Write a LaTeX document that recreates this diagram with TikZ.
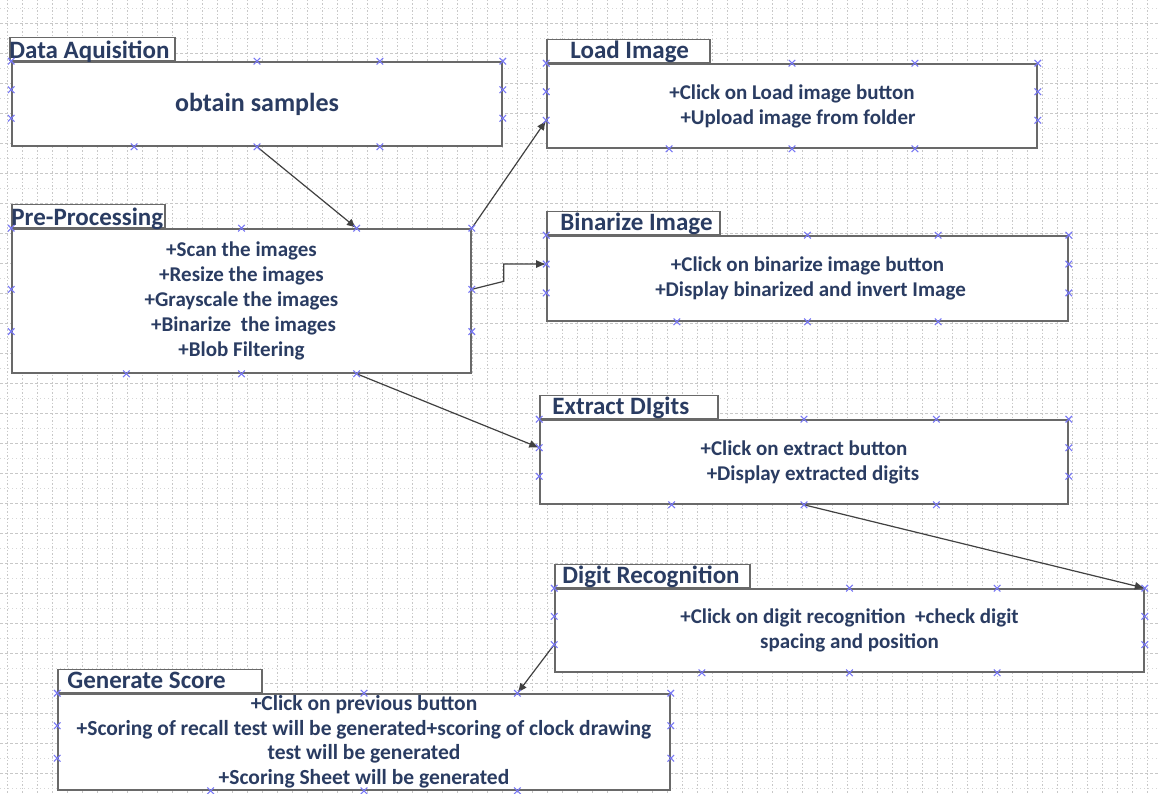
\documentclass[tikz,border=0pt]{standalone}
\usepackage{fontspec}
\setmainfont{Carlito}
\usetikzlibrary{arrows.meta,calc,shapes.misc}

\definecolor{ink}{RGB}{42,60,98}
\definecolor{frame}{RGB}{105,105,105}
\definecolor{pin}{RGB}{120,120,245}
\definecolor{wire}{RGB}{65,65,65}
\definecolor{gridc}{RGB}{215,215,215}
\definecolor{gridm}{RGB}{200,200,200}

\tikzset{
  stagebox/.style={draw=frame, line width=1.6pt, fill=white, inner sep=0pt,
    align=center, text=ink, font=\bfseries\fontsize{21}{25}\selectfont},
  tabbox/.style={draw=frame, line width=1.6pt, fill=white, inner sep=0pt,
    anchor=south west, minimum height=23pt},
  tabtext/.style={text=ink, font=\bfseries\fontsize{25}{26}\selectfont,
    anchor=base west, inner sep=0pt},
  pinmark/.style={cross out, draw=pin, line width=1.1pt, minimum size=5.5pt,
    inner sep=0pt},
  flow/.style={draw=wire, line width=1.2pt, -{Latex[length=10pt,width=8pt]}},
  vgrid/.style={draw=gridm, line width=0.7pt, dash pattern=on 1.5pt off 2pt},
  minorgrid/.style={draw=gridc, line width=0.6pt, dash pattern=on 1pt off 3pt},
  majorgrid/.style={draw=gridm, line width=0.8pt, dash pattern=on 3pt off 2pt},
}

% connection points of a stage box: #1 name, #2 and #3 side fractions
\newcommand\stagepins[3]{%
  \foreach \f/\n in {0/tl,0.5/t50,0.75/t75,1/tr}
    \coordinate (#1-\n) at ($(#1.north west)!\f!(#1.north east)$);
  \foreach \f/\n in {0.25/b25,0.5/b50,0.75/b75}
    \coordinate (#1-\n) at ($(#1.south west)!\f!(#1.south east)$);
  \coordinate (#1-l1) at ($(#1.north west)!#2!(#1.south west)$);
  \coordinate (#1-l2) at ($(#1.north west)!#3!(#1.south west)$);
  \coordinate (#1-r1) at ($(#1.north east)!#2!(#1.south east)$);
  \coordinate (#1-r2) at ($(#1.north east)!#3!(#1.south east)$);
}
\newcommand\drawpins[1]{%
  \foreach \n in {tl,t50,t75,tr,b25,b50,b75,l1,l2,r1,r2}
    \node[pinmark] at (#1-\n) {};
}

\begin{document}
\begin{tikzpicture}[x=1pt,y=-1pt]
  \useasboundingbox (0,0) rectangle (1159,794);
  \fill[white] (0,0) rectangle (1159,794);

  % background grid
  \foreach \x in {7,22,...,1159} \draw[vgrid] (\x,0) -- (\x,794);
  \foreach \y in {8,38,...,794} \draw[minorgrid] (0,\y) -- (1159,\y);
  \foreach \y in {23,53,...,794} \draw[majorgrid] (0,\y) -- (1159,\y);

  % stage boxes
  \node[stagebox, minimum width=490pt, minimum height=84pt,
        font=\bfseries\fontsize{26}{28}\selectfont] (da) at (257,104) {obtain samples};
  \node[stagebox, minimum width=459pt, minimum height=144pt] (pp) at (241.5,301)
    {+Scan the images\\+Resize the images\\+Grayscale the images\\
     \hspace*{4pt}+Binarize~ the images\\+Blob Filtering};
  \node[stagebox, minimum width=490pt, minimum height=84pt] (li) at (792,106)
    {+Click on Load image button\\\hspace*{12pt}+Upload image from folder};
  \node[stagebox, minimum width=521pt, minimum height=85pt] (bi) at (807.5,278.5)
    {+Click on binarize image button\\\hspace*{6pt}+Display binarized and invert Image};
  \node[stagebox, minimum width=528pt, minimum height=84pt] (ed) at (804,462)
    {+Click on extract button\\\hspace*{18pt}+Display extracted digits};
  \node[stagebox, minimum width=589pt, minimum height=83pt] (dr) at (849.5,630.5)
    {+Click on digit recognition~ +check digit\\spacing and position};
  \node[stagebox, minimum width=612pt, minimum height=96pt,
        font=\bfseries\fontsize{21.5}{24.5}\selectfont] (gs) at (364,742)
    {+Click on previous button\\
     +Scoring of recall test will be generated+scoring of clock drawing\\
     test will be generated\\+Scoring Sheet will be generated};

  % title tabs
  \node[tabbox, minimum width=165pt] (da-tab) at ($(da.north west)+(-2,0)$) {};
  \node[tabbox, minimum width=153pt] (pp-tab) at (pp.north west) {};
  \node[tabbox, minimum width=163pt] (li-tab) at (li.north west) {};
  \node[tabbox, minimum width=173pt] (bi-tab) at (bi.north west) {};
  \node[tabbox, minimum width=178pt] (ed-tab) at (ed.north west) {};
  \node[tabbox, minimum width=195pt] (dr-tab) at (dr.north west) {};
  \node[tabbox, minimum width=204pt] (gs-tab) at (gs.north west) {};

  \node[tabtext] (da-title) at ($(da-tab.south west)+(0,-3)$) {Data Aquisition};
  \node[tabtext] (pp-title) at ($(pp-tab.south west)+(0,-3)$) {Pre-Processing};
  \node[tabtext] (li-title) at ($(li-tab.south west)+(24,-5)$) {Load Image};
  \node[tabtext] (bi-title) at ($(bi-tab.south west)+(14,-5)$) {Binarize Image};
  \node[tabtext] (ed-title) at ($(ed-tab.south west)+(13,-5)$) {Extract DIgits};
  \node[tabtext] (dr-title) at ($(dr-tab.south west)+(8,-5)$) {Digit Recognition};
  \node[tabtext] (gs-title) at ($(gs-tab.south west)+(10,-5)$) {Generate Score};

  % connection points
  \stagepins{da}{1/3}{2/3}
  \stagepins{pp}{0.42}{0.71}
  \stagepins{li}{1/3}{2/3}
  \stagepins{bi}{1/3}{2/3}
  \stagepins{ed}{1/3}{2/3}
  \stagepins{dr}{1/3}{2/3}
  \stagepins{gs}{1/3}{2/3}

  % connectors
  \draw[flow] (da-b50) -- (pp-t75);
  \draw[flow] (pp-tr) -- (li-l2);
  \draw[flow] (pp-r1) -- ++(32,-8) |- (bi-l1);
  \draw[flow] (pp-b75) -- (ed-l1);
  \draw[flow] (ed-b50) -- (dr-tr);
  \draw[flow] (dr-l2) -- (gs-t75);

  \drawpins{da}
  \drawpins{pp}
  \drawpins{li}
  \drawpins{bi}
  \drawpins{ed}
  \drawpins{dr}
  \drawpins{gs}
\end{tikzpicture}
\end{document}
